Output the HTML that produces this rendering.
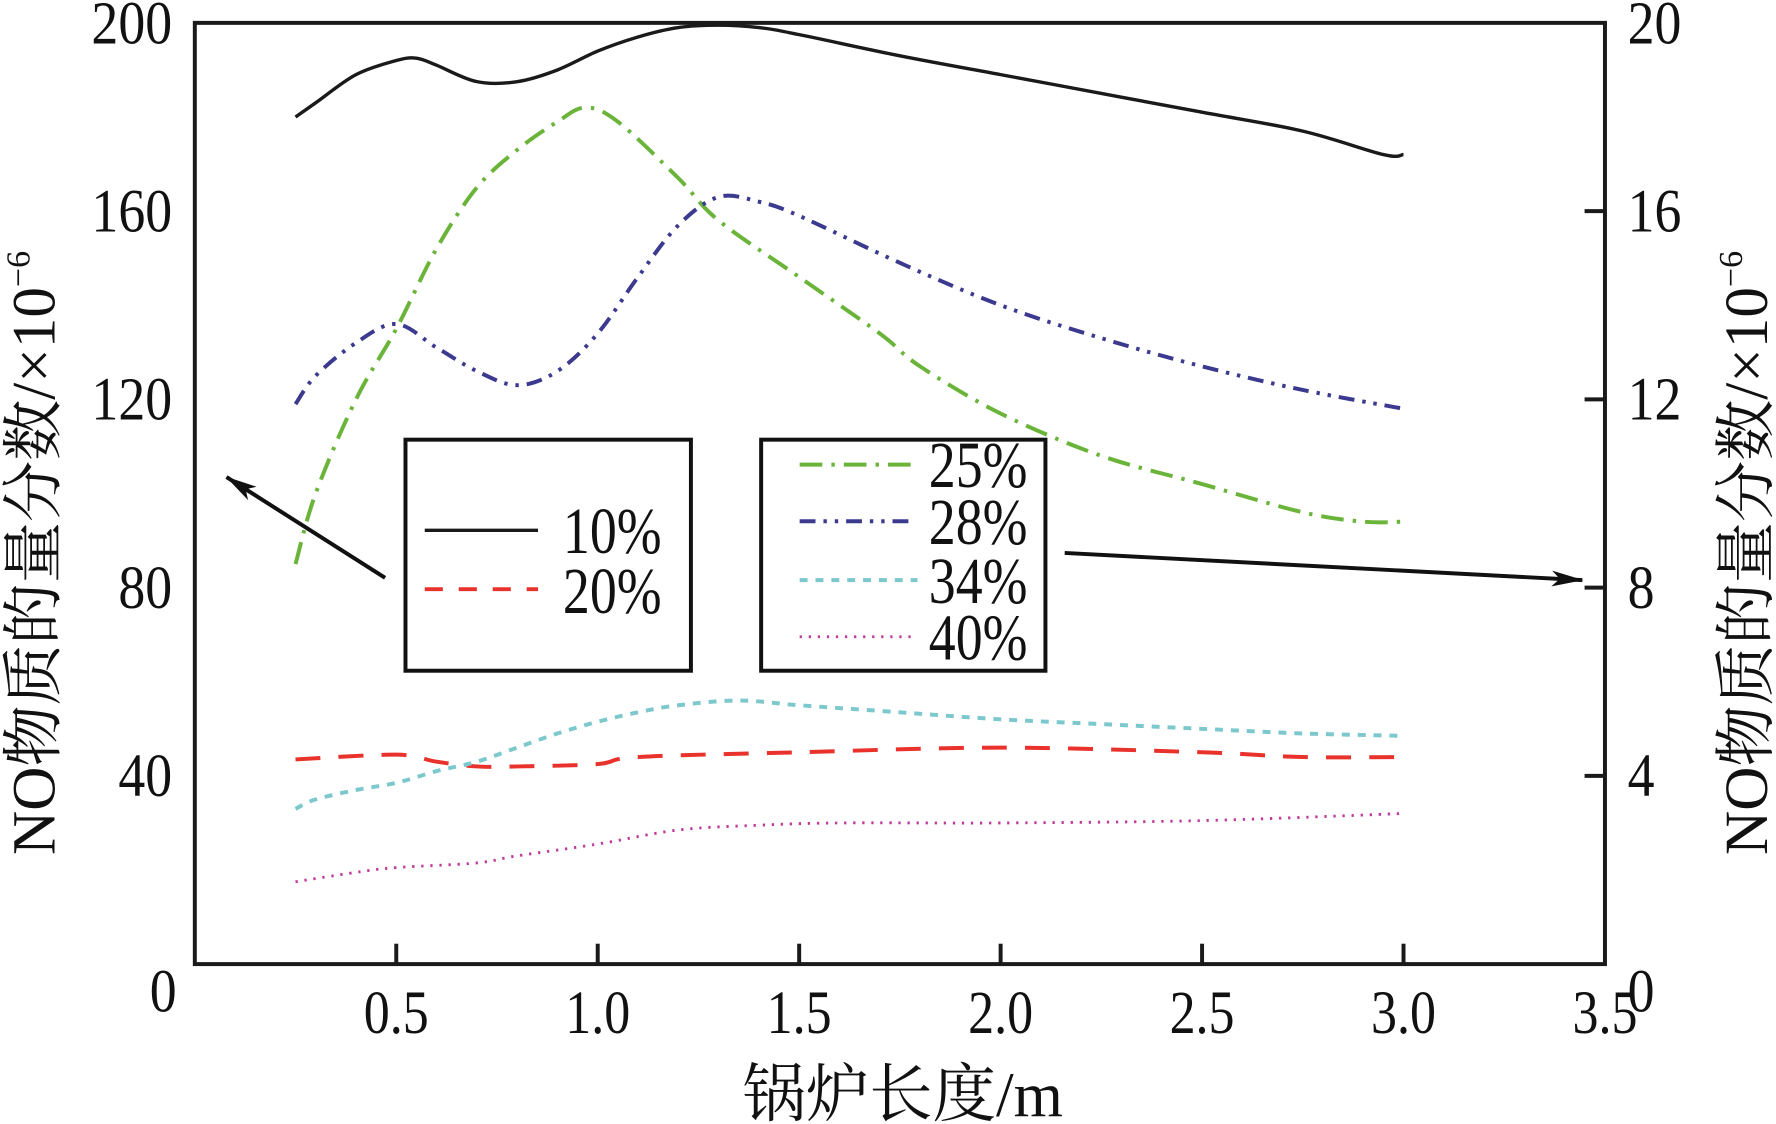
<!DOCTYPE html>
<html><head><meta charset="utf-8">
<style>
html,body{margin:0;padding:0;background:#fff;}
svg{display:block;}
text{font-family:"Liberation Serif","Noto Serif CJK SC",serif;fill:#111;}
</style></head>
<body>
<svg id="chart" width="1776" height="1124" viewBox="0 0 1568 992" xmlns="http://www.w3.org/2000/svg">
<g id="marks"></g>
<g id="axes"></g>
</svg>
<script>
const xTicks=[0.5,1.0,1.5,2.0,2.5,3.0,3.5];
const xTickLabels=["0.5","1.0","1.5","2.0","2.5","3.0","3.5"];
const yTicks=[0,40,80,120,160,200];
const yTickLabels=["0","40","80","120","160","200"];
const y2TickLabels=["0","4","8","12","16","20"];
const x10=[0.25,0.3,0.4,0.5,0.55,0.6,0.7,0.8,0.9,1.0,1.1,1.2,1.3,1.4,1.5,1.75,2.0,2.25,2.5,2.75,2.95,3.0];
const y10=[180,183,189,192,192.5,191,187.5,187.5,190,194,197,199,199.5,199,197.5,193,189,185,181,177,172,172];
const x25=[0.25,0.3,0.4,0.5,0.6,0.7,0.8,0.9,0.97,1.05,1.2,1.3,1.5,1.7,1.8,2.0,2.25,2.5,2.75,2.9,3.0];
const y25=[85,100,120,135,152,165,173,179,182,179,167,158,146,134,127,117,108,102,96,94,94];
const x28=[0.25,0.3,0.4,0.5,0.6,0.7,0.8,0.9,1.0,1.1,1.2,1.3,1.4,1.5,1.75,2.0,2.25,2.5,2.75,3.0];
const y28=[119,125,132,136,131,126,123,126,134,146,157,163,162,159,149,140,133,127,122,118];
const x20=[0.25,0.5,0.6,0.7,0.8,1.0,1.1,1.5,2.0,2.5,2.75,3.0];
const y20=[43.5,44.5,43,42,42,42.5,44,45,46,45,44,44];
const x34=[0.25,0.3,0.4,0.5,0.6,0.7,0.8,0.9,1.0,1.1,1.2,1.35,1.5,1.75,2.0,2.25,2.5,2.75,3.0];
const y34=[33,35,37,38.5,41,43,46,49,51.5,53.5,55,56,55,53.5,52,51,50,49,48.5];
const x40=[0.25,0.4,0.5,0.7,0.8,1.0,1.2,1.4,1.6,2.0,2.5,3.0];
const y40=[17.5,19.5,20.5,21.5,23,25.5,28.5,29.5,30,30,30.5,32];

const L=172,R=1417,T=20,B=851;
const sx=v=>L+(v/3.5)*(R-L);
const sy=v=>B-(v/200)*(B-T);
const NS="http://www.w3.org/2000/svg";
const marks=document.getElementById('marks'),axes=document.getElementById('axes');
function mk(tag,attrs,parent){const e=document.createElementNS(NS,tag);for(const k in attrs)e.setAttribute(k,attrs[k]);parent.appendChild(e);return e;}
function smooth(pts){
 let d="M"+pts[0][0].toFixed(1)+" "+pts[0][1].toFixed(1);
 for(let i=0;i<pts.length-1;i++){
  const p0=pts[Math.max(0,i-1)],p1=pts[i],p2=pts[i+1],p3=pts[Math.min(pts.length-1,i+2)];
  const c1x=p1[0]+(p2[0]-p0[0])/6,c1y=p1[1]+(p2[1]-p0[1])/6;
  const c2x=p2[0]-(p3[0]-p1[0])/6,c2y=p2[1]-(p3[1]-p1[1])/6;
  d+=`C${c1x.toFixed(1)} ${c1y.toFixed(1)} ${c2x.toFixed(1)} ${c2y.toFixed(1)} ${p2[0].toFixed(1)} ${p2[1].toFixed(1)}`;
 }
 return d;
}

const series=[
 {xs:x10,ys:y10,c:"#1a1a1a",d:"",w:3,n:"series-10-percent"},
 {xs:x20,ys:y20,c:"#e8322b",d:"22 16",w:3.5,n:"series-20-percent"},
 {xs:x25,ys:y25,c:"#6ab43a",d:"20 8 3 8",w:3.5,n:"series-25-percent"},
 {xs:x28,ys:y28,c:"#3b3a8f",d:"14 7 3 7 3 7",w:3.5,n:"series-28-percent"},
 {xs:x34,ys:y34,c:"#7dc8cc",d:"7 7",w:3.5,n:"series-34-percent"},
 {xs:x40,ys:y40,c:"#c0389a",d:"2 6",w:2.5,n:"series-40-percent"}
];
series.forEach(s=>{
 const pts=s.xs.map((x,i)=>[sx(x),sy(s.ys[i])]);
 const p=mk('path',{d:smooth(pts),fill:"none",stroke:s.c,"stroke-width":s.w,"stroke-dasharray":s.d,"stroke-linejoin":"round"},marks);
 
 
});

const fr=mk('rect',{x:L,y:T,width:R-L,height:B-T,fill:"none",stroke:"#1a1a1a","stroke-width":3.5},axes);


xTicks.forEach((v,i)=>{
 if(v<3.5){const t=mk('line',{x1:sx(v),x2:sx(v),y1:B,y2:B-18,stroke:"#1a1a1a","stroke-width":3.5},axes);
 
 }
 const tx=mk('text',{x:sx(v),y:912,"font-size":54,"text-anchor":"middle",transform:`translate(${sx(v)} 0) scale(0.85 1) translate(${-sx(v)} 0)`},axes);
 tx.textContent=xTickLabels[i];
 
 
});
yTicks.forEach((v,i)=>{
 if(v>0&&v<200){const t=mk('line',{x1:R,x2:R-18,y1:sy(v),y2:sy(v),stroke:"#1a1a1a","stroke-width":3.5},axes);
 
 }
 const ly=v===0?893:sy(v)+18;
 const ax=v===0?156:152;
 const a=mk('text',{x:ax,y:ly,"font-size":54,"text-anchor":"end",transform:`translate(${ax} 0) scale(0.88 1) translate(${-ax} 0)`},axes);
 a.textContent=yTickLabels[i];
 
 
 const bx=v===0?1437:1437;
 const b=mk('text',{x:bx,y:ly,"font-size":54,"text-anchor":"start",transform:`translate(${bx} 0) scale(0.88 1) translate(${-bx} 0)`},axes);
 b.textContent=y2TickLabels[i];
 
 
});
</script>
<svg style="position:absolute;left:0;top:0" width="1776" height="1124" viewBox="0 0 1568 992" xmlns="http://www.w3.org/2000/svg">
<defs><marker id="ah" markerWidth="28" markerHeight="14" refX="27" refY="7" orient="auto" markerUnits="userSpaceOnUse" viewBox="0 0 28 14"><path d="M0 0L28 7L0 14L7 7Z" fill="#111"/></marker></defs>
<text x="797" y="985" font-size="56" text-anchor="middle" style="font-family:'Liberation Serif','Noto Serif CJK SC',serif">锅炉长度/m</text>
<text transform="translate(48 488) rotate(-90)" font-size="54" text-anchor="middle" style="font-family:'Liberation Serif','Noto Serif CJK SC',serif">NO物质的量分数/×10<tspan font-size="30" dy="-22">−6</tspan></text>
<text transform="translate(1560 488) rotate(-90)" font-size="54" text-anchor="middle" style="font-family:'Liberation Serif','Noto Serif CJK SC',serif">NO物质的量分数/×10<tspan font-size="30" dy="-22">−6</tspan></text>
<line x1="340" y1="510" x2="200" y2="421" stroke="#111" stroke-width="3.5" marker-end="url(#ah)"/>
<line x1="940" y1="488" x2="1397" y2="512" stroke="#111" stroke-width="3.5" marker-end="url(#ah)"/>
<g>
<rect x="358" y="388" width="252" height="204" fill="#fff" stroke="#111" stroke-width="3.5"/>
<line x1="375" y1="468" x2="475" y2="468" stroke="#1a1a1a" stroke-width="3"/>
<text x="497" y="488" font-size="58" transform="translate(497 0) scale(0.82 1) translate(-497 0)">10%</text>
<line x1="375" y1="520" x2="475" y2="520" stroke="#e8322b" stroke-width="3.5" stroke-dasharray="16 14"/>
<text x="497" y="541" font-size="58" transform="translate(497 0) scale(0.82 1) translate(-497 0)">20%</text>
</g>
<g>
<rect x="672" y="388" width="251" height="204" fill="#fff" stroke="#111" stroke-width="3.5"/>
<line x1="706" y1="410" x2="806" y2="410" stroke="#6ab43a" stroke-width="3.5" stroke-dasharray="20 8 3 8"/>
<text x="820" y="430" font-size="58" transform="translate(820 0) scale(0.82 1) translate(-820 0)">25%</text>
<line x1="706" y1="460" x2="806" y2="460" stroke="#3b3a8f" stroke-width="3.5" stroke-dasharray="14 7 3 7 3 7"/>
<text x="820" y="480" font-size="58" transform="translate(820 0) scale(0.82 1) translate(-820 0)">28%</text>
<line x1="706" y1="512" x2="810" y2="512" stroke="#7dc8cc" stroke-width="3.5" stroke-dasharray="7 7"/>
<text x="820" y="532" font-size="58" transform="translate(820 0) scale(0.82 1) translate(-820 0)">34%</text>
<line x1="706" y1="562" x2="810" y2="562" stroke="#c0389a" stroke-width="2.5" stroke-dasharray="2 6"/>
<text x="820" y="582" font-size="58" transform="translate(820 0) scale(0.82 1) translate(-820 0)">40%</text>
</g>
</svg>
</body></html>
